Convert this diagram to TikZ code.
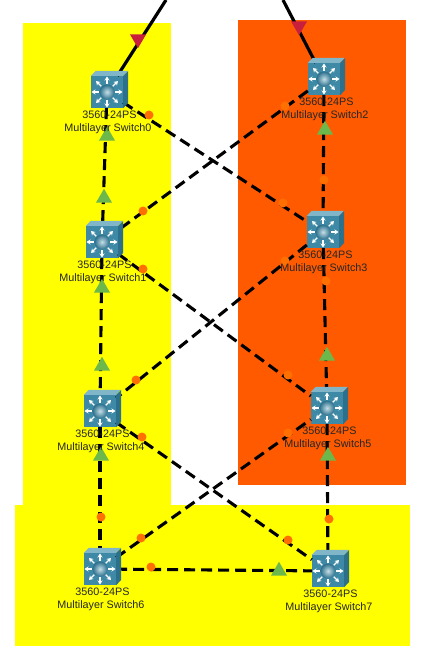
\documentclass[tikz,border=0pt]{standalone}
\usepackage{fontspec}
\setmainfont{Liberation Sans}
\usetikzlibrary{arrows.meta,calc,positioning,shapes.geometric}
\definecolor{zoneyellow}{RGB}{255,255,0}
\definecolor{zoneorange}{RGB}{255,90,0}
\definecolor{linkdotc}{RGB}{255,112,0}
\definecolor{uplinkred}{RGB}{200,32,60}
\definecolor{trigreen}{RGB}{108,184,74}
\definecolor{swfront}{RGB}{62,138,166}
\definecolor{swtop}{RGB}{128,182,200}
\definecolor{swside}{RGB}{44,112,140}
\tikzset{
  swfacenode/.style={rectangle,fill=swfront,minimum size=32pt,inner sep=0pt},
  trunk/.style={line width=3.1pt,dash pattern=on 11pt off 6pt},
  uplink/.style={line width=3.2pt},
  linkdot/.style={circle,fill=linkdotc,minimum size=9pt,inner sep=0pt},
  upmark/.style={regular polygon,regular polygon sides=3,fill=trigreen,minimum size=18.5pt,inner sep=0pt},
  downmark/.style={upmark,fill=uplinkred,shape border rotate=180},
  swlabel/.style={font=\fontsize{10.8}{12}\selectfont,text=black!85,inner sep=0pt,align=center}
}
\begin{document}
\begin{tikzpicture}[x=1pt,y=-1pt,>=Stealth]
  \useasboundingbox (0,0) rectangle (440,671);
  \fill[zoneyellow] (23,23) rectangle (171,505);
  \fill[zoneorange] (238,20) rectangle (406,485);
  \fill[zoneyellow] (15,505) rectangle (410,646);
  \foreach \n/\x/\y in {0/107/92,1/102/242,2/324/79,3/323/232,4/100/411,5/327/408,6/100/569,7/328/571}
    \node[swfacenode] (sw\n) at (\x,\y) {};
  \coordinate (ext0) at (166,0);
  \coordinate (ext2) at (283,0);
  \draw[uplink] (ext0)--(sw0);
  \draw[uplink] (ext2)--(sw2);
  \foreach \a/\b in {0/1,1/4,4/6,2/3,3/5,5/7,0/3,2/1,1/5,3/4,4/7,6/5,6/7}
    \draw[trunk] (sw\a)--(sw\b);
  \foreach \n in {0,...,7} {
    \fill[swtop] (sw\n.north west)--++(5,-5)--++(32,0)--(sw\n.north east)--cycle;
    \fill[swside] (sw\n.north east)--++(5,-5)--++(0,32)--(sw\n.south east)--cycle;
    \foreach \a in {0,45,...,315}
      \draw[-{Stealth[length=4pt,width=5pt]},white,line width=1.2pt] ($(sw\n)+(\a:8)$)--($(sw\n)+(\a:15.5)$);
    \shade[inner color=swtop!45!white,outer color=swside] (sw\n) circle (7.5);
  }
  \foreach \x/\y [count=\i] in {149/115,143/211,285/106,143/269,136/380,142/437,141/538,101/517,329/519,151/567,288/540,283/203,324/180,285/261,326/281,288/375,288/433}
    \node[linkdot] (dot\i) at (\x,\y) {};
  \foreach \x/\y [count=\i] in {107/136,104/198,102/288,102/366,101/456,325/130,327/356,328/456,279/571}
    \node[upmark] (tri\i) at (\x,\y) {};
  \node[downmark] (red0) at (138,39) {};
  \node[downmark] (red2) at (299,26) {};
  \foreach \n in {0,...,7} {
    \node[swlabel] (type\n) at ($(sw\n)+(2.5,23)$) {3560-24PS};
    \node[swlabel] (name\n) at ($(sw\n)+(1,37)$) {Multilayer Switch\n};
  }
\end{tikzpicture}
\end{document}
